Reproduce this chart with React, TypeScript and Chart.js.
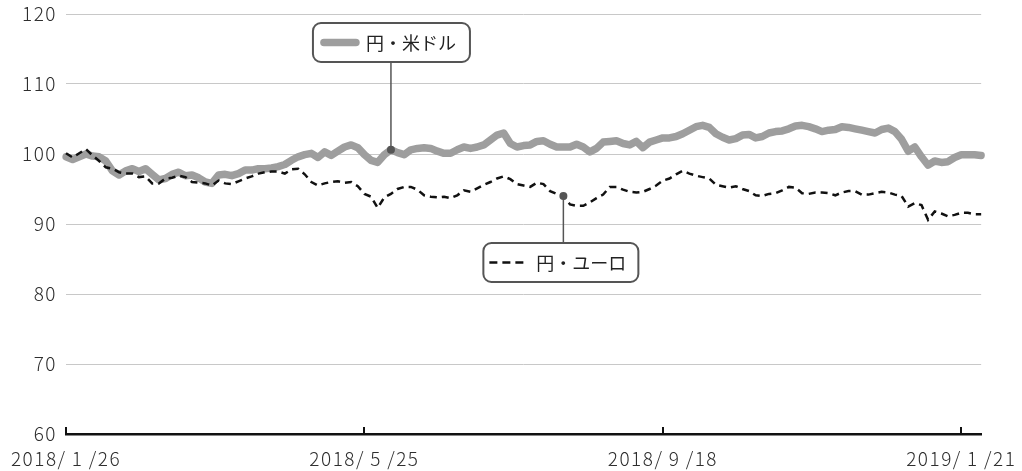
import React, { useEffect, useRef } from "react";
import { Chart, registerables } from "chart.js";

Chart.register(...registerables);

const tickDates = ["2018/\u20091\u2009/26", "2018/\u20095\u2009/25", "2018/\u20099\u2009/18", "2019/\u20091\u2009/21"];
const tickIdx = [0, 45, 90, 135];
const yTicks = [60, 70, 80, 90, 100, 110, 120];

const usdName = "円・米ドル";
const eurName = "円・ユーロ";
const usdCallIdx = 49;
const eurCallIdx = 75;

const usd = [
  99.6, 99.2, 99.6, 100.0, 99.7, 99.6, 99.0, 97.6, 97.0, 97.6,
  97.9, 97.5, 97.9, 97.1, 96.3, 96.5, 97.1, 97.4, 96.9, 97.0,
  96.6, 96.0, 95.8, 97.0, 97.1, 96.9, 97.2, 97.7, 97.7, 97.9,
  97.9, 98.0, 98.2, 98.5, 99.1, 99.6, 99.9, 100.1, 99.5, 100.3,
  99.8, 100.4, 101.0, 101.3, 100.9, 99.9, 99.1, 98.8, 99.9, 100.6,
  100.2, 99.9, 100.6, 100.8, 100.9, 100.8, 100.4, 100.1, 100.1, 100.6,
  101.0, 100.8, 101.0, 101.3, 102.0, 102.7, 103.0, 101.5, 101.0, 101.2,
  101.3, 101.8, 101.9, 101.4, 101.0, 101.0, 101.0, 101.4, 101.0, 100.3,
  100.8, 101.7, 101.8, 101.9, 101.5, 101.3, 101.8, 100.9, 101.7, 102.0,
  102.3, 102.3, 102.5, 102.9, 103.4, 103.9, 104.1, 103.8, 102.9, 102.4,
  102.0, 102.2, 102.7, 102.8, 102.3, 102.5, 103.0, 103.2, 103.3, 103.6,
  104.0, 104.1, 103.9, 103.6, 103.2, 103.4, 103.5, 103.9, 103.8, 103.6,
  103.4, 103.2, 103.0, 103.5, 103.7, 103.2, 102.1, 100.4, 101.0, 99.6,
  98.4, 99.0, 98.8, 98.9, 99.5, 99.9, 99.9, 99.9, 99.8,
];

const eur = [
  100.1, 99.5, 100.1, 100.7, 99.8, 99.0, 98.1, 97.9, 97.4, 97.2,
  97.2, 96.7, 96.8, 95.8, 95.8, 96.5, 96.6, 96.9, 96.7, 96.0,
  95.9, 95.8, 95.5, 96.2, 95.8, 95.7, 96.1, 96.5, 96.8, 97.2,
  97.4, 97.5, 97.5, 97.2, 97.8, 97.9, 97.1, 96.0, 95.5, 95.8,
  96.0, 96.1, 95.9, 96.0, 95.4, 94.3, 93.9, 92.3, 93.8, 94.3,
  95.0, 95.3, 95.3, 94.9, 94.1, 93.9, 93.8, 93.9, 93.7, 94.1,
  94.8, 94.6, 95.1, 95.6, 96.0, 96.5, 96.8, 96.4, 95.7, 95.5,
  95.3, 95.9, 95.7, 94.7, 94.3, 94.0, 92.8, 92.6, 92.6, 93.1,
  93.7, 94.2, 95.3, 95.3, 94.9, 94.6, 94.5, 94.6, 95.0, 95.5,
  96.2, 96.5, 97.1, 97.6, 97.2, 96.9, 96.7, 96.5, 95.6, 95.4,
  95.2, 95.4, 95.0, 94.7, 94.1, 94.0, 94.3, 94.4, 94.8, 95.3,
  95.2, 94.4, 94.3, 94.5, 94.5, 94.4, 94.1, 94.5, 94.7, 94.7,
  94.2, 94.2, 94.4, 94.6, 94.5, 94.2, 94.0, 92.5, 93.0, 92.7,
  90.6, 91.8, 91.5, 91.1, 91.3, 91.6, 91.6, 91.4, 91.4,
];

const categories = usd.map((_, i) => {
  const k = tickIdx.indexOf(i);
  return k >= 0 ? tickDates[k] : "";
});

const FONT = "'Noto Sans CJK JP', 'Noto Sans', sans-serif";
const TEXT = "#2e2e2e";
const USD_COLOR = "#9e9e9e";
const EUR_COLOR = "#111111";
const FRAME = "#555555";

function roundRect(ctx: CanvasRenderingContext2D, x: number, y: number, w: number, h: number, r: number) {
  ctx.beginPath();
  ctx.moveTo(x + r, y);
  ctx.lineTo(x + w - r, y);
  ctx.arcTo(x + w, y, x + w, y + r, r);
  ctx.lineTo(x + w, y + h - r);
  ctx.arcTo(x + w, y + h, x + w - r, y + h, r);
  ctx.lineTo(x + r, y + h);
  ctx.arcTo(x, y + h, x, y + h - r, r);
  ctx.lineTo(x, y + r);
  ctx.arcTo(x, y, x + r, y, r);
  ctx.closePath();
}

function callout(
  ctx: CanvasRenderingContext2D,
  ax: number,
  ay: number,
  bx: number,
  by: number,
  bw: number,
  bh: number,
  kind: "usd" | "eur",
  label: string
) {
  const leaderEnd = by > ay ? by : by + bh;
  ctx.strokeStyle = FRAME;
  ctx.lineWidth = 1.5;
  ctx.setLineDash([]);
  ctx.beginPath();
  ctx.moveTo(ax, ay);
  ctx.lineTo(ax, leaderEnd);
  ctx.stroke();

  roundRect(ctx, bx, by, bw, bh, 8);
  ctx.fillStyle = "#ffffff";
  ctx.fill();
  ctx.lineWidth = 2;
  ctx.strokeStyle = FRAME;
  ctx.stroke();

  const cy = by + bh / 2;
  if (kind === "usd") {
    ctx.strokeStyle = USD_COLOR;
    ctx.lineWidth = 7.5;
    ctx.lineCap = "round";
    ctx.beginPath();
    ctx.moveTo(bx + 11, cy);
    ctx.lineTo(bx + 43, cy);
    ctx.stroke();
  } else {
    ctx.strokeStyle = EUR_COLOR;
    ctx.lineWidth = 2.5;
    ctx.lineCap = "butt";
    ctx.setLineDash([8, 5]);
    ctx.beginPath();
    ctx.moveTo(bx + 6, cy);
    ctx.lineTo(bx + 40, cy);
    ctx.stroke();
    ctx.setLineDash([]);
  }
  ctx.lineCap = "butt";
  ctx.fillStyle = "#222222";
  ctx.font = `18px ${FONT}`;
  (ctx as any).letterSpacing = "0px";
  ctx.textAlign = "left";
  ctx.textBaseline = "middle";
  ctx.fillText(label, bx + 53, cy + 1);

  ctx.fillStyle = FRAME;
  ctx.beginPath();
  ctx.arc(ax, ay, 4, 0, Math.PI * 2);
  ctx.fill();
}

const overlay = {
  id: "overlay",
  beforeDraw(chart: any) {
    (chart.ctx as any).letterSpacing = "1.5px";
  },
  afterDatasetsDraw(chart: any) {
    const { ctx, chartArea, scales } = chart;
    const x = scales.x;
    const y = scales.y;
    ctx.save();
    ctx.strokeStyle = "#111111";
    ctx.lineWidth = 2;
    tickIdx.forEach((i) => {
      const px = Math.round(x.getPixelForValue(i));
      ctx.beginPath();
      ctx.moveTo(px, chartArea.bottom);
      ctx.lineTo(px, chartArea.bottom - 7);
      ctx.stroke();
    });

    const ux = x.getPixelForValue(usdCallIdx);
    const uy = y.getPixelForValue(usd[usdCallIdx]);
    callout(ctx, ux, uy, ux - 78, y.getPixelForValue(yTicks[6]) + 9, 157, 39, "usd", usdName);

    const ex = x.getPixelForValue(eurCallIdx);
    const ey = y.getPixelForValue(eur[eurCallIdx]);
    callout(ctx, ex, ey, ex - 80, y.getPixelForValue(yTicks[3]) + 19, 155, 39, "eur", eurName);
    ctx.restore();
  },
};

export default function App() {
  const ref = useRef<HTMLCanvasElement | null>(null);
  useEffect(() => {
    if (!ref.current) return;
    const chart = new Chart(ref.current, {
      type: "line",
      data: {
        labels: categories,
        datasets: [
          {
            label: eurName,
            data: eur,
            borderColor: EUR_COLOR,
            borderWidth: 2.5,
            borderDash: [7, 5],
            pointRadius: 0,
            tension: 0,
            fill: false,
          },
          {
            label: usdName,
            data: usd,
            borderColor: USD_COLOR,
            borderWidth: 7.5,
            borderJoinStyle: "round",
            borderCapStyle: "round",
            pointRadius: 0,
            tension: 0,
            fill: false,
          },
        ],
      },
      options: {
        responsive: false,
        animation: false,
        events: [],
        layout: { padding: { top: 14, right: 40, left: 0, bottom: 0 } },
        plugins: { legend: { display: false }, tooltip: { enabled: false } },
        scales: {
          x: {
            type: "category",
            grid: { display: false, drawTicks: false },
            border: { display: true, color: "#111111", width: 2.5 },
            ticks: {
              autoSkip: false,
              maxRotation: 0,
              minRotation: 0,
              padding: 13,
              color: TEXT,
              font: { family: FONT, size: 19, weight: "300" },
              callback: (_v: any, i: number) => (categories[i] ? categories[i] : null),
            },
            afterFit: (s: any) => {
              s.height = 37;
            },
          },
          y: {
            min: 60,
            max: 120,
            grid: { color: "#c8c8c8", lineWidth: 1, drawTicks: false },
            border: { display: false },
            ticks: {
              stepSize: 10,
              padding: 9,
              color: TEXT,
              font: { family: FONT, size: 19, weight: "300" },
            },
            afterFit: (s: any) => {
              s.width = 66;
              s.paddingTop = 0;
              s.paddingBottom = 0;
            },
          },
        },
      },
      plugins: [overlay],
    });
    return () => chart.destroy();
  }, []);
  return (
    <canvas
      ref={ref}
      width={1022}
      height={471}
      style={{ position: "fixed", left: 0, top: 0, width: 1022, height: 471 }}
    />
  );
}
